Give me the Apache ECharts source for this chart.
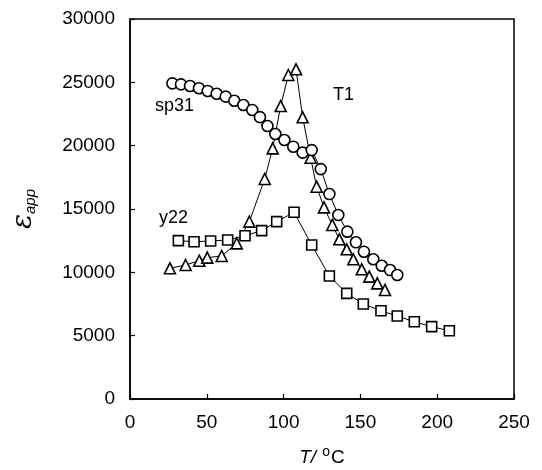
<!DOCTYPE html>
<html>
<head>
<meta charset="utf-8">
<script src="https://cdn.jsdelivr.net/npm/echarts@6/dist/echarts.min.js"></script>
<style>
  html, body { margin: 0; padding: 0; background: #fff; }
  #chart { width: 542px; height: 470px; }
</style>
</head>
<body>
<div id="chart"></div>
<script>
// sp31 (circles)
const sp31T = [27.6, 33.2, 39.1, 44.9, 50.6, 56.4, 62.3, 67.9, 73.8, 79.6, 84.6, 89.5, 94.6, 100.5,
  106.3, 112.4, 118.3, 124.2, 129.8, 135.6, 141.5, 147.1, 152.3, 158.4, 163.9, 169.3, 174.0]
const sp31E = [24920, 24840, 24710, 24530, 24320, 24100, 23870, 23550, 23210, 22820, 22250, 21550, 20920, 20450,
  19920, 19450, 19650, 18150, 16180, 14530, 13210, 12370, 11630, 11030, 10520, 10180, 9790]

// T1 (triangles)
const t1T = [26.0, 36.2, 45.1, 50.3, 59.7, 69.5, 77.7, 87.7, 92.9, 98.1, 103.1, 108.1, 112.4, 117.6,
  121.5, 126.3, 131.7, 136.3, 141.1, 145.4, 150.9, 155.8, 161.0, 166.0]
const t1E = [10320, 10580, 10920, 11160, 11290, 12290, 14000, 17370, 19790, 23130, 25580, 26030, 22240, 19050,
  16760, 15130, 13740, 12610, 11820, 11030, 10240, 9660, 9130, 8610]

// y22 (squares)
const y22T = [31.5, 41.7, 52.5, 63.6, 74.9, 85.7, 95.5, 106.8, 118.3, 129.8, 141.1, 151.9, 163.4, 174.0, 185.1, 196.4, 207.9]
const y22E = [12500, 12420, 12470, 12550, 12890, 13290, 14000, 14740, 12160, 9710, 8340, 7500, 6970, 6550, 6100, 5710, 5390]

const xTicks = [0, 50, 100, 150, 200, 250]
const yTicks = [0, 5000, 10000, 15000, 20000, 25000, 30000]

const font = 'Liberation Sans, Arial, sans-serif'

function pairs(xs, ys) {
  return xs.map((x, i) => [x, ys[i]])
}

function lineSeries(name, data, symbol, size) {
  return {
    name: name,
    type: 'line',
    data: data,
    symbol: symbol,
    symbolSize: size,
    showAllSymbol: true,
    lineStyle: { color: '#000', width: 1 },
    itemStyle: { color: '#fff', borderColor: '#000', borderWidth: 1.6 },
    emphasis: { disabled: true },
    animation: false
  }
}

const chart = echarts.init(document.getElementById('chart'))
chart.setOption({
  backgroundColor: '#fff',
  animation: false,
  grid: {
    left: 130, top: 19, width: 384, height: 380,
    outerBoundsMode: 'none', containLabel: false,
    show: true, borderColor: '#000', borderWidth: 1.5, backgroundColor: 'transparent'
  },
  xAxis: {
    type: 'value',
    min: xTicks[0], max: xTicks[xTicks.length - 1], interval: 50,
    axisLine: { show: true, onZero: false, lineStyle: { color: '#000', width: 1.5 } },
    axisTick: { show: true, inside: true, length: 5, lineStyle: { color: '#000', width: 1.2 } },
    splitLine: { show: false },
    axisLabel: { color: '#000', fontFamily: font, fontSize: 19, margin: 14, formatter: v => String(v) },
    name: '{it|T/ }{sup|o}{n|C}',
    nameLocation: 'middle',
    nameGap: 46,
    nameTextStyle: {
      color: '#000',
      rich: {
        it: { fontFamily: font, fontSize: 19, fontStyle: 'italic', color: '#000' },
        n: { fontFamily: font, fontSize: 19, color: '#000' },
        sup: { fontFamily: font, fontSize: 14, color: '#000', verticalAlign: 'top', padding: [0, 1, 12, 1] }
      }
    }
  },
  yAxis: {
    type: 'value',
    min: yTicks[0], max: yTicks[yTicks.length - 1], interval: 5000,
    axisLine: { show: true, lineStyle: { color: '#000', width: 1.5 } },
    axisTick: { show: true, inside: true, length: 5, lineStyle: { color: '#000', width: 1.2 } },
    splitLine: { show: false },
    axisLabel: { color: '#000', fontFamily: font, fontSize: 19, margin: 15, formatter: v => String(v) },
    name: '{e|ε}{s|app}',
    nameLocation: 'middle',
    nameRotate: 90,
    nameGap: 92,
    nameTextStyle: {
      color: '#000',
      rich: {
        e: { fontFamily: 'DejaVu Serif, serif', fontSize: 28, fontStyle: 'italic', color: '#000' },
        s: { fontFamily: font, fontSize: 15, fontStyle: 'italic', color: '#000', verticalAlign: 'bottom', padding: [10, 0, 0, 0] }
      }
    }
  },
  graphic: [
    { type: 'text', left: 155, top: 97, style: { text: 'sp31', font: '18px ' + font, fill: '#000' } },
    { type: 'text', left: 333, top: 86, style: { text: 'T1', font: '18px ' + font, fill: '#000' } },
    { type: 'text', left: 159, top: 209, style: { text: 'y22', font: '18px ' + font, fill: '#000' } }
  ],
  series: [
    lineSeries('T1', pairs(t1T, t1E), 'triangle', 11),
    lineSeries('y22', pairs(y22T, y22E), 'rect', 10),
    lineSeries('sp31', pairs(sp31T, sp31E), 'circle', 11)
  ]
})
</script>
</body>
</html>
